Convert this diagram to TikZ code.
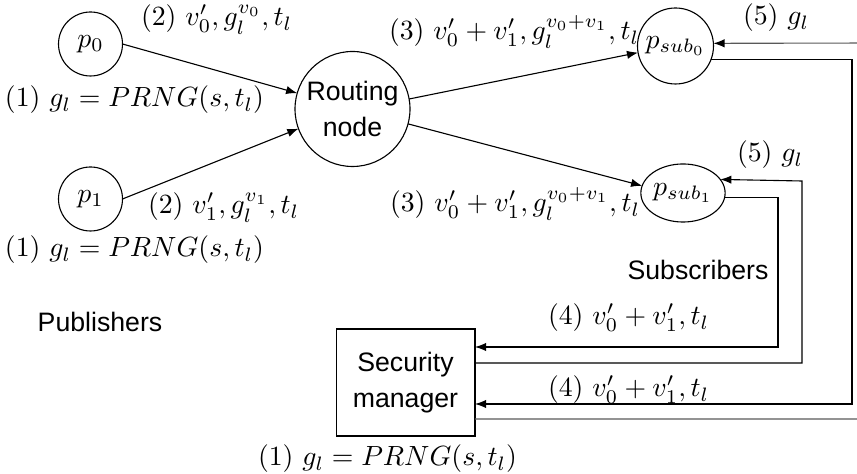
\documentclass[tikz,border=0pt]{standalone}
\usepackage{fontspec}
\newfontfamily\labelsans{Liberation Sans}
\usetikzlibrary{arrows.meta,shapes.geometric}
\begin{document}
\begin{tikzpicture}[x=0.36pt,y=-0.36pt,
  line width=0.4pt,
  every node/.style={inner sep=0pt, outer sep=0pt},
  party/.style={draw, circle, minimum size=23.04pt},
  hub/.style={draw, circle, minimum size=41.4pt, align=center,
    font=\labelsans\fontsize{9.6}{13}\selectfont},
  subnode/.style={draw, circle, minimum size=27.36pt},
  subellipse/.style={draw, ellipse, minimum width=26.3pt, minimum height=20.9pt},
  manager/.style={draw, rectangle, minimum width=50pt, minimum height=38.5pt,
    align=center, font=\labelsans\fontsize{9.6}{13}\selectfont},
  msg/.style={anchor=base west, font=\fontsize{9.7}{12}\selectfont},
  group/.style={font=\labelsans\fontsize{9.6}{12}\selectfont},
  arr/.style={-{Latex[length=4pt,width=3pt]}},
  faint/.style={draw=black!65, -{Latex[length=4pt,width=3pt,color=black]}}
]
\useasboundingbox (0,0) rectangle (857,474);
\clip (0,0) rectangle (857,474);

% publishers, router, subscribers, security manager
\node[party] (p0) at (90.5,44) {$p_0$};
\node[party] (p1) at (90.5,199) {$p_1$};
\node[hub] (rn) at (352.5,109) {Routing\\node};
\node[subnode] (s0) at (675.5,46) {$p_{sub_0}$};
\node[subellipse] (s1) at (683,193) {$p_{sub_1}$};
\node[manager] (sm) at (405.5,382.5) {Security\\manager};

% publishers to the routing node
\draw[arr] (p0.east) -- (rn.164);
\draw[arr] (p1.east) -- (rn.200);

% routing node to the subscribers
\draw[arr] (rn.10) -- (s0.190);
\draw[arr] (rn.-15) -- (s1.170);

% subscriber 1 reports to the manager
\coordinate (a1) at (778,347);
\draw[arr] (s1.-6) -| (a1) -- (a1 -| sm.east);

% manager returns g_l to subscriber 1
\coordinate (b0) at (475,363);
\coordinate (b1) at (802,181);
\draw[arr] (sm.east |- b0) -| (b1) -- (s1.20);

% subscriber 0 reports to the manager
\coordinate (c1) at (852,404);
\draw[arr] (s0.-21.6) -| (c1) -- (c1 -| sm.east);

% manager returns g_l to subscriber 0 (runs past the right edge)
\coordinate (d0) at (475,419);
\coordinate (d1) at (880,43);
\draw[faint] (sm.east |- d0) -| (d1) -- (s0.4.5);

% message labels
\node[msg] (m2a) at (141,26) {$(2)\ v_0', g_l^{v_0}, t_l$};
\node[msg] (m1a) at (5,107) {$(1)\ g_l = PRNG(s,t_l)$};
\node[msg] (m2b) at (148,214) {$(2)\ v_1', g_l^{v_1}, t_l$};
\node[msg] (m1b) at (5,257) {$(1)\ g_l = PRNG(s,t_l)$};
\node[msg] (m3a) at (389,40) {$(3)\ v_0'+v_1', g_l^{v_0+v_1}, t_l$};
\node[msg] (m3b) at (390,212) {$(3)\ v_0'+v_1', g_l^{v_0+v_1}, t_l$};
\node[msg] (m5a) at (743,25) {$(5)\ g_l$};
\node[msg] (m5b) at (737,162) {$(5)\ g_l$};
\node[msg] (m4a) at (548,325) {$(4)\ v_0'+v_1', t_l$};
\node[msg] (m4b) at (548,397) {$(4)\ v_0'+v_1', t_l$};
\node[msg] (m1c) at (258,466) {$(1)\ g_l = PRNG(s,t_l)$};

% group captions
\node[group] (pub) at (100,322) {Publishers};
\node[group] (sub) at (698,270) {Subscribers};
\end{tikzpicture}
\end{document}
